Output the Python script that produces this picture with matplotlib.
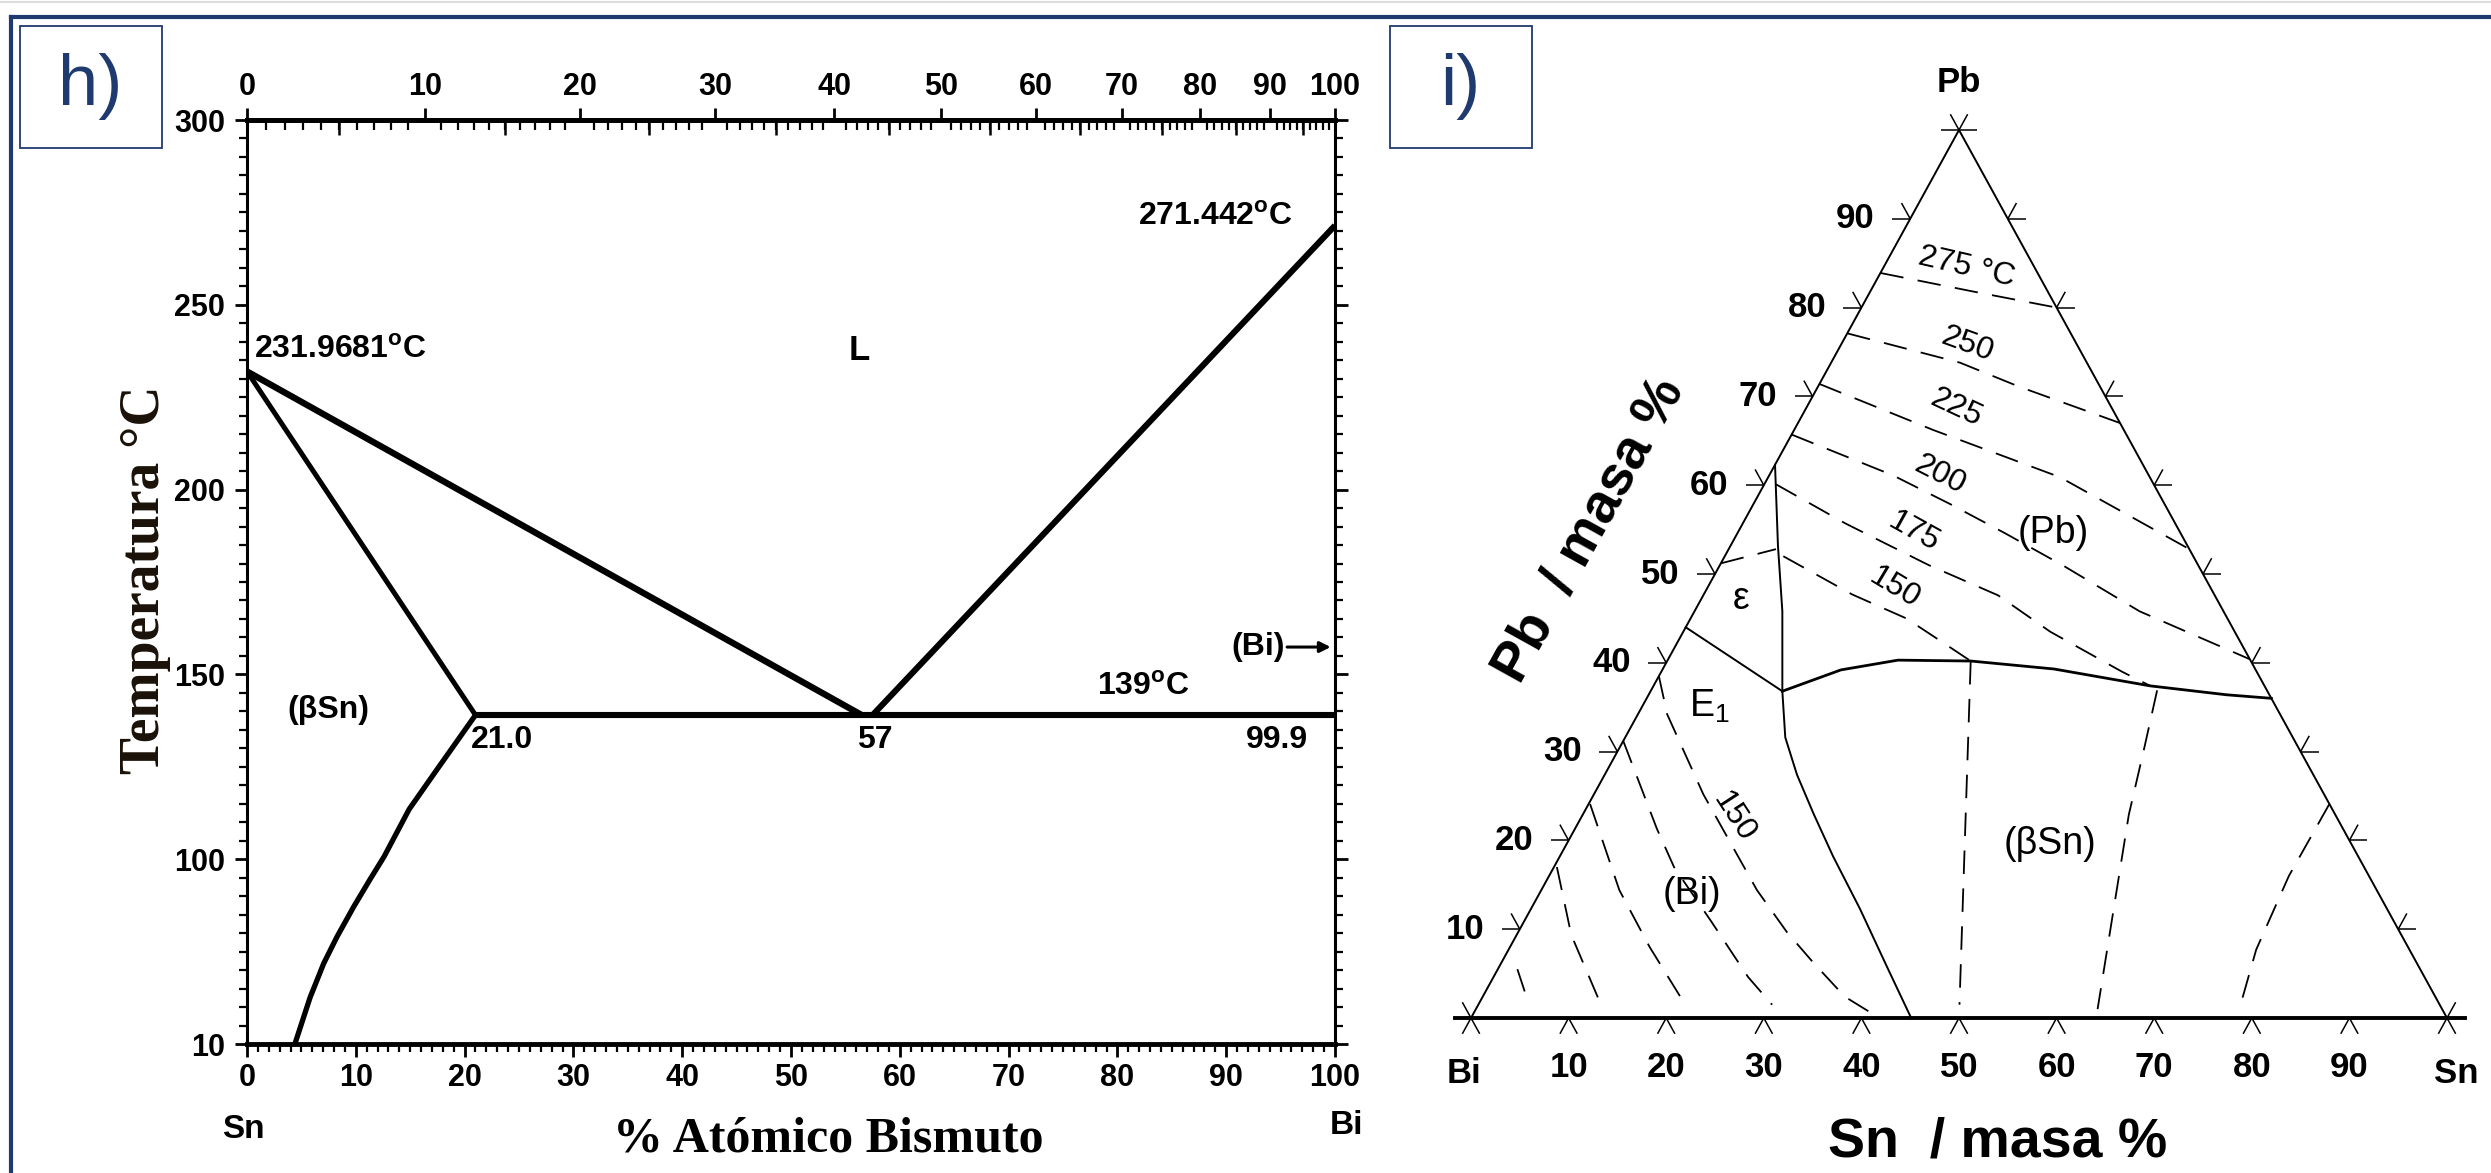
import numpy as np
import matplotlib
matplotlib.use('Agg')
import matplotlib.pyplot as plt
from matplotlib.lines import Line2D
from matplotlib.patches import Rectangle
from matplotlib.ticker import MultipleLocator

W, H = 2491, 1173

NARROW = ['Liberation Sans Narrow', 'Liberation Sans', 'DejaVu Sans']
SANS = ['Liberation Sans', 'DejaVu Sans']
SERIF = ['Liberation Serif', 'DejaVu Serif']
NAVY = '#1f3a6e'

plt.rcParams['font.family'] = NARROW
plt.rcParams['font.weight'] = 'bold'

# ---------------- h) Sn-Bi binary diagram ----------------
M_SN, M_BI = 118.71, 208.98          # atomic masses for the top (atomic %) scale
liq_sn_x = [0, 56.5]
liq_sn_t = [231.9681, 139]
liq_bi_x = [57.5, 100]
liq_bi_t = [139, 271.442]
sol_sn_x = [0, 21.0]
sol_sn_t = [231.9681, 139]
solvus_x = [21.0, 17.4, 14.9, 12.6, 11.3, 9.8, 8.27, 7.05, 5.8, 4.4]
solvus_t = [139, 124, 113.5, 100.7, 94.5, 87.1, 79.0, 71.8, 62.6, 50]
eut_x = [21.0, 100]
eut_t = [139, 139]
temp_ticks = [50, 100, 150, 200, 250, 300]
temp_labels = ['10', '100', '150', '200', '250', '300']
comp_ticks = list(range(0, 101, 10))

# ---------------- i) Bi-Pb-Sn ternary (Sn, Pb mass %) ----------------
tern_ticks = list(range(0, 101, 10))
bnd_eps_sn = [0, 13.5]
bnd_eps_pb = [44.0, 36.8]
bnd_pb_sn = [0, 4.85, 9.0, 13.5]
bnd_pb_pb = [62.3, 53.2, 45.8, 36.8]
bnd_bi_sn = [13.5, 16.4, 19.7, 23.6, 28.0, 33.7, 39.8, 45.1]
bnd_bi_pb = [36.8, 31.6, 27.4, 23.0, 18.2, 12.3, 5.7, 0]
bnd_sn_sn = [13.5, 18.3, 23.6, 31.1, 40.1, 50.9, 59.2, 64.0]
bnd_sn_pb = [36.8, 39.2, 40.3, 40.2, 39.3, 37.4, 36.4, 36.0]

iso_275_sn = [0, 10.6, 20.0]
iso_275_pb = [83.9, 81.8, 80.0]
iso_250_sn = [0, 13.2, 20.6, 33.0]
iso_250_pb = [77.1, 73.8, 71.1, 67.0]
iso_225_sn = [0, 14.3, 29.9, 47.2]
iso_225_pb = [71.4, 66.2, 60.9, 52.8]
iso_200_sn = [0, 12.7, 20.1, 27.4, 35.3, 45.6, 59.6]
iso_200_pb = [65.7, 61.1, 57.9, 54.6, 50.9, 45.8, 40.4]
iso_175_sn = [1.2, 10.5, 21.4, 30.2, 37.6, 47.2, 50.9]
iso_175_pb = [60.1, 55.7, 51.0, 47.6, 43.5, 39.0, 37.4]
iso_150_sn = [6.0, 15.2, 22.1, 26.8, 31.1]
iso_150_pb = [52.0, 47.7, 45.0, 42.5, 40.2]
iso_eps_sn = [0, 4.85]
iso_eps_pb = [51.2, 52.8]
bi_a_sn = [2.0, 5.2]
bi_a_pb = [5.5, 1.5]
bi_b_sn = [0.3, 5.6, 12.3]
bi_b_pb = [17.0, 9.35, 1.8]
bi_c_sn = [0.15, 8.0, 14.3, 21.2]
bi_c_pb = [24.1, 14.4, 8.0, 1.5]
bi_d_sn = [0, 8.4, 12.3, 19.15, 26.1, 30.1]
bi_d_pb = [31.2, 21.3, 17.0, 10.9, 4.6, 1.5]
bi_e_sn = [0, 3.0, 11.2, 22.1, 27.5, 32.0, 37.1, 41.65]
bi_e_pb = [38.5, 34.2, 25.2, 14.4, 9.7, 6.2, 2.4, 0.1]
sn_f_sn = [31.1, 49.3]
sn_f_pb = [40.2, 1.5]
sn_g_sn = [51.85, 53.9, 55.95, 63.7]
sn_g_pb = [36.9, 30.0, 22.9, 1.0]
sn_h_sn = [75.9, 75.8, 76.6, 78.1]
sn_h_pb = [24.1, 16.0, 7.7, 1.5]


def wt_to_at(w):
    w = np.asarray(w, float)
    return 100 * (w / M_BI) / (w / M_BI + (100 - w) / M_SN)


def at_to_wt(a):
    a = np.asarray(a, float)
    return 100 * a * M_BI / (a * M_BI + (100 - a) * M_SN)


fig = plt.figure(figsize=(W / 100, H / 100), dpi=100)

# page frame and panel boxes
fig.add_artist(Line2D([0, 1], [1 - 1.5 / H] * 2, color='#dcdcdc', lw=1.5))
fig.add_artist(Line2D([11 / W, 1], [1 - 17 / H] * 2, color=NAVY, lw=3))
fig.add_artist(Line2D([11 / W, 11 / W], [0, 1 - 17 / H], color=NAVY, lw=3))
for x0, lab in [(20, 'h)'), (1390, 'i)')]:
    fig.add_artist(Rectangle((x0 / W, 1 - 148 / H), 142 / W, 122 / H,
                             fill=False, ec=NAVY, lw=1.3))
    fig.text((x0 + 70) / W, 1 - 86 / H, lab, ha='center', va='center',
             fontsize=52, color=NAVY, family=SANS, weight='normal')

# ---- panel h ----
ax = fig.add_axes([247 / W, 1 - 1044 / H, (1335 - 247) / W, (1044 - 120) / H])
ax.plot(liq_sn_x, liq_sn_t, color='k', lw=4.6, solid_capstyle='butt')
ax.plot(liq_bi_x, liq_bi_t, color='k', lw=4.4, solid_capstyle='butt')
ax.plot(sol_sn_x, sol_sn_t, color='k', lw=3.6, solid_capstyle='butt')
ax.plot(solvus_x, solvus_t, color='k', lw=3.8, solid_capstyle='butt')
ax.plot(eut_x, eut_t, color='k', lw=4.4, solid_capstyle='butt')
ax.set_xlim(0, 100)
ax.set_ylim(50, 300)
ax.set_xticks(comp_ticks)
ax.xaxis.set_minor_locator(MultipleLocator(1))
ax.set_yticks(temp_ticks, temp_labels)
ax.yaxis.set_minor_locator(MultipleLocator(5))
ax.tick_params(which='both', direction='out', right=True, labelsize=22, width=2)
ax.tick_params(which='major', length=9)
ax.tick_params(which='minor', length=6, width=1.6)
ax.tick_params(axis='x', pad=5)
ax.tick_params(axis='y', pad=7)
for side, lw in [('top', 3.5), ('bottom', 3.5), ('left', 2.2), ('right', 2.2)]:
    ax.spines[side].set_linewidth(lw)

sec = ax.secondary_xaxis('top', functions=(wt_to_at, at_to_wt))
sec.set_xticks(comp_ticks)
sec.xaxis.set_minor_locator(MultipleLocator(1))
sec.tick_params(which='major', direction='out', length=9, width=2, labelsize=22, pad=4)
sec.tick_params(which='minor', direction='in', length=7, width=1.6)
sec.spines['top'].set_linewidth(3.5)
sec5 = ax.secondary_xaxis('top', functions=(wt_to_at, at_to_wt))
sec5.set_xticks(list(range(5, 100, 10)))
sec5.tick_params(direction='in', length=11, width=1.8, labeltop=False)

lbl = dict(family=SANS, fontsize=23, weight='bold')
ax.text(0.6, 235.5, '231.9681$^{\\mathregular{o}}$C', ha='left', va='baseline', **lbl)
ax.text(96.1, 271.5, '271.442$^{\\mathregular{o}}$C', ha='right', va='baseline', **lbl)
ax.text(56.25, 237.6, 'L', ha='center', va='center', family=SANS, fontsize=25, weight='bold')
ax.text(7.5, 140.5, '(βSn)', ha='center', va='center', **lbl)
ax.text(20.6, 132.2, '21.0', ha='left', va='center', **lbl)
ax.text(57.7, 132.2, '57', ha='center', va='center', **lbl)
ax.text(94.7, 132.2, '99.9', ha='center', va='center', **lbl)
ax.text(82.4, 146.5, '139$^{\\mathregular{o}}$C', ha='center', va='center', **lbl)
ax.text(95.4, 157.4, '(Bi)', ha='right', va='center', **lbl)
ax.annotate('', xy=(99.6, 157.4), xytext=(95.6, 157.4),
            arrowprops=dict(arrowstyle='-|>', lw=2.2, color='k', mutation_scale=16,
                            shrinkA=0, shrinkB=0))

fig.text(243 / W, 1 - 1130 / H, 'Sn', ha='center', va='center', fontsize=24)
fig.text(1347 / W, 1 - 1125 / H, 'Bi', ha='center', va='center', fontsize=24)
fig.text(828 / W, 1 - 1140 / H, '% Atómico Bismuto', ha='center', va='center',
         family=SERIF, fontsize=36, weight='bold')
fig.text(145 / W, 1 - 580 / H, 'Temperatura °C', ha='center', va='center',
         rotation=90, family=SERIF, fontsize=40, weight='bold', color='#1a1208')

# ---- panel i ----
ax2 = fig.add_axes([1471 / W, 1 - 1018 / H, 976 / W, 888 / H])
ax2.set_xlim(0, 100)
ax2.set_ylim(0, 100)
ax2.axis('off')
kx, ky = 976 / 100, 888 / 100


def tern(sn, pb):
    sn = np.asarray(sn, float)
    pb = np.asarray(pb, float)
    return sn + pb / 2, pb


ax2.plot([0, 50, 100], [0, 100, 0], color='k', lw=1.4)
ax2.plot([-1.6, 101.8], [0, 0], color='k', lw=2.8, clip_on=False)

up_left = np.array([-0.483, 0.876])
up_right = np.array([0.481, 0.877])


def stroke(x, y, d, length=18):
    ax2.plot([x, x + length * d[0] / kx], [y, y + length * d[1] / ky],
             color='k', lw=1.1, clip_on=False, solid_capstyle='butt')


for v in tern_ticks:
    x, y = tern(0, v)
    stroke(x, y, (-1, 0))
    stroke(x, y, up_left)
    x, y = tern(100 - v, v)
    stroke(x, y, (1, 0))
    stroke(x, y, up_right)
    x, y = tern(v, 0)
    stroke(x, y, -up_right)
    stroke(x, y, -up_left)

solid = [(bnd_eps_sn, bnd_eps_pb, 1.4), (bnd_pb_sn, bnd_pb_pb, 1.4),
         (bnd_bi_sn, bnd_bi_pb, 1.4), (bnd_sn_sn, bnd_sn_pb, 2.0)]
for s, p, lw in solid:
    ax2.plot(*tern(s, p), color='k', lw=lw)

dashed = [(iso_275_sn, iso_275_pb), (iso_250_sn, iso_250_pb), (iso_225_sn, iso_225_pb),
          (iso_200_sn, iso_200_pb), (iso_175_sn, iso_175_pb), (iso_150_sn, iso_150_pb),
          (iso_eps_sn, iso_eps_pb), (bi_a_sn, bi_a_pb), (bi_b_sn, bi_b_pb),
          (bi_c_sn, bi_c_pb), (bi_d_sn, bi_d_pb), (bi_e_sn, bi_e_pb),
          (sn_f_sn, sn_f_pb), (sn_g_sn, sn_g_pb), (sn_h_sn, sn_h_pb)]
for s, p in dashed:
    ax2.plot(*tern(s, p), color='k', lw=1.3, linestyle=(0, (13, 8)))

tk = dict(family=SANS, fontsize=25, weight='bold', ha='center', va='center', clip_on=False)
for v in tern_ticks[1:-1]:
    x, y = tern(0, v)
    ax2.text(x - 5.6, y, str(v), **tk)
    x, y = tern(v, 0)
    ax2.text(x, y - 5.6, str(v), **tk)
ax2.text(-0.7, -6.2, 'Bi', **tk)
ax2.text(100.9, -6.2, 'Sn', **tk)
ax2.text(50, 105.3, 'Pb', **tk)

iso_labels = [('275 °C', 8.55, 84.5, -13), ('250', 12.9, 75.8, -20), ('225', 15.35, 68.7, -25),
              ('200', 17.5, 61.1, -27), ('175', 18.05, 54.7, -29), ('150', 19.2, 48.4, -31),
              ('150', 15.65, 22.6, -57)]
for t, s, p, r in iso_labels:
    ax2.text(*tern(s, p), t, rotation=r, ha='center', va='center',
             family=SANS, fontsize=23, weight='normal')
region_labels = [('(Pb)', 32.4, 54.6), ('ε', 4.1, 47.2), ('(Bi)', 15.6, 14.0),
                 ('(βSn)', 49.5, 19.6), ('E$_{\\mathregular{1}}$', 6.85, 35.1)]
for t, s, p in region_labels:
    ax2.text(*tern(s, p), t, ha='center', va='center',
             family=SANS, fontsize=27, weight='normal')

fig.text(1590 / W, 1 - 530 / H, 'Pb  / masa %', rotation=61, ha='center', va='center',
         family=SANS, fontsize=40, weight='bold')
fig.text(1998 / W, 1 - 1143 / H, 'Sn  / masa %', ha='center', va='center',
         family=SANS, fontsize=40, weight='bold')

fig.savefig('out.png', dpi=100, facecolor='white')
